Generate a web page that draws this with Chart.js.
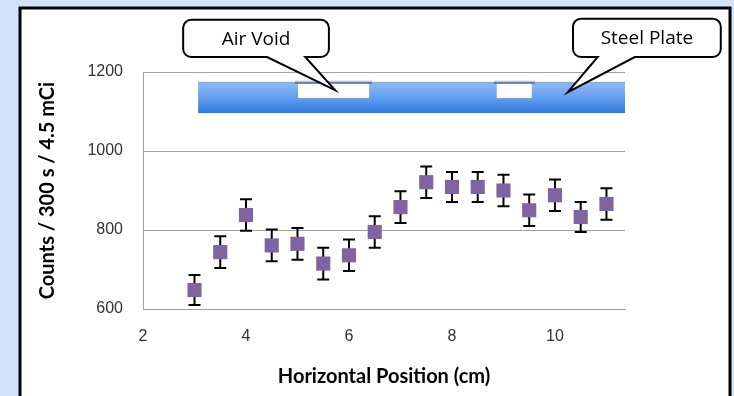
<!DOCTYPE html>
<html>
<head>
<meta charset="utf-8">
<style>
  html, body { margin: 0; padding: 0; background: #cfe4fa; }
  canvas { display: block; }
</style>
<script src="https://cdn.jsdelivr.net/npm/chart.js@4"></script>
</head>
<body>
<canvas id="chart" width="734" height="396"></canvas>
<script>
// measured data, counts per 300 s
const positions = [3, 3.5, 4, 4.5, 5, 5.5, 6, 6.5, 7, 7.5, 8, 8.5, 9, 9.5, 10, 10.5, 11];
const counts = [648, 744, 838, 761, 765, 715, 736, 795, 858, 921, 909, 909, 900, 850, 888, 833, 866];
const errors = [38, 40, 40, 40, 40, 40, 40, 40, 40, 40, 38, 38, 40, 40, 40, 38, 40];

const xTicks = [2, 4, 6, 8, 10];
const yTicks = [600, 800, 1000, 1200];

// schematic of the sample (in axis units)
const plateStart = 3.07;
const plateTop = 1175;
const plateBottom = 1096;
const voids = [[5.01, 6.39], [8.87, 9.55]];
const voidTop = 1170;
const voidBottom = 1134;

const callouts = [
  { text: "Air Void", box: [2.78, 5.61, 1332, 1238], base: [4.41, 5.15], tip: [5.73, 1154] },
  { text: "Steel Plate", box: [10.35, 13.22, 1335, 1238], base: [10.83, 11.55], tip: [10.25, 1149] }
];

const frame = {
  id: "frame",
  beforeDraw(chart) {
    const c = chart.ctx;
    c.save();
    c.fillStyle = "#cfe4fa";
    c.fillRect(0, 0, chart.width, chart.height);
    c.fillStyle = "#ffffff";
    c.fillRect(20, 8, 710, chart.height);
    c.strokeStyle = "#000";
    c.lineWidth = 3;
    c.strokeRect(20, 8, 710, chart.height + 10);
    c.restore();
  }
};

const errorBars = {
  id: "errorBars",
  beforeDatasetsDraw(chart) {
    const c = chart.ctx;
    const xs = chart.scales.x, ys = chart.scales.y;
    c.save();
    c.strokeStyle = "#000";
    c.lineWidth = 2;
    positions.forEach((p, i) => {
      const x = xs.getPixelForValue(p);
      const y1 = ys.getPixelForValue(counts[i] + errors[i]);
      const y2 = ys.getPixelForValue(counts[i] - errors[i]);
      c.beginPath();
      c.moveTo(x, y1); c.lineTo(x, y2);
      c.moveTo(x - 6, y1); c.lineTo(x + 6, y1);
      c.moveTo(x - 6, y2); c.lineTo(x + 6, y2);
      c.stroke();
    });
    c.restore();
  }
};

const schematic = {
  id: "schematic",
  afterDatasetsDraw(chart) {
    const c = chart.ctx;
    const xs = chart.scales.x, ys = chart.scales.y;
    const area = chart.chartArea;
    const px = v => xs.getPixelForValue(v);
    const py = v => ys.getPixelForValue(v);

    // plate
    const l = px(plateStart), r = area.right, t = py(plateTop), b = py(plateBottom);
    const g = c.createLinearGradient(0, t, 0, b);
    g.addColorStop(0, "#92bcf6");
    g.addColorStop(0.45, "#6aa2ee");
    g.addColorStop(1, "#2f7ae0");
    c.save();
    c.fillStyle = g;
    c.fillRect(l, t, r - l, b - t);
    const sh = c.createLinearGradient(0, t, 0, t + 3);
    sh.addColorStop(0, "rgba(120,130,150,0.35)");
    sh.addColorStop(1, "rgba(120,130,150,0)");
    c.fillStyle = sh;
    c.fillRect(l, t, r - l, 3);

    voids.forEach(([a, z]) => {
      const vl = px(a), vr = px(z), vt = py(voidTop), vb = py(voidBottom);
      const s = c.createLinearGradient(0, vt - 4, 0, vt);
      s.addColorStop(0, "rgba(40,50,80,0)");
      s.addColorStop(1, "rgba(40,50,80,0.55)");
      c.fillStyle = s;
      c.fillRect(vl - 3, vt - 4, vr - vl + 6, 4);
      c.fillStyle = "#ffffff";
      c.fillRect(vl, vt, vr - vl, vb - vt);
    });
    c.restore();

    // callouts
    c.save();
    c.lineWidth = 2;
    c.strokeStyle = "#000";
    c.font = "19px 'Open Sans', sans-serif";
    c.textAlign = "center";
    c.textBaseline = "middle";
    callouts.forEach(co => {
      const bl = px(co.box[0]), br = px(co.box[1]), bt = py(co.box[2]), bb = py(co.box[3]);
      const rad = 8;
      const b0 = px(co.base[0]), b1 = px(co.base[1]);
      const tx = px(co.tip[0]), ty = py(co.tip[1]);
      c.beginPath();
      c.moveTo(bl + rad, bt);
      c.lineTo(br - rad, bt);
      c.arcTo(br, bt, br, bt + rad, rad);
      c.lineTo(br, bb - rad);
      c.arcTo(br, bb, br - rad, bb, rad);
      c.lineTo(b1, bb);
      c.lineTo(tx, ty);
      c.lineTo(b0, bb);
      c.lineTo(bl + rad, bb);
      c.arcTo(bl, bb, bl, bb - rad, rad);
      c.lineTo(bl, bt + rad);
      c.arcTo(bl, bt, bl + rad, bt, rad);
      c.closePath();
      c.fillStyle = "#ffffff";
      c.fill();
      c.stroke();
      c.fillStyle = "#000";
      c.fillText(co.text, (bl + br) / 2, (bt + bb) / 2 + 1);
    });
    c.restore();
  }
};

const tickFont = { family: "'Liberation Sans', sans-serif", size: 16 };

new Chart(document.getElementById("chart"), {
  type: "scatter",
  data: {
    datasets: [{
      data: positions.map((p, i) => ({ x: p, y: counts[i] })),
      pointStyle: "rect",
      pointRadius: 10,
      pointHoverRadius: 10,
      backgroundColor: "#8064a2",
      borderColor: "#8064a2",
      borderWidth: 0
    }]
  },
  options: {
    responsive: false,
    animation: false,
    devicePixelRatio: 1,
    layout: { padding: { left: 0, top: 72, right: 109, bottom: 0 } },
    plugins: {
      legend: { display: false },
      tooltip: { enabled: false }
    },
    scales: {
      x: {
        type: "linear",
        min: 2,
        max: 11.36,
        afterBuildTicks: s => { s.ticks = xTicks.map(v => ({ value: v })); },
        afterFit: s => { s.height = 87; },
        grid: { display: false, drawTicks: false },
        border: { color: "#a0a0a0", width: 1 },
        ticks: { padding: 18, color: "#333", font: tickFont, callback: v => String(v) },
        title: {
          display: true,
          text: "Horizontal Position (cm)",
          color: "#000",
          font: { family: "Lato, sans-serif", size: 20, weight: "bold" },
          padding: { top: 0, bottom: 7 }
        }
      },
      y: {
        min: 600,
        max: 1200,
        afterBuildTicks: s => { s.ticks = yTicks.map(v => ({ value: v })); },
        afterFit: s => { s.width = 143; },
        grid: { color: "#a0a0a0", lineWidth: 1, drawTicks: false },
        border: { color: "#a0a0a0", width: 1 },
        ticks: { padding: 20, color: "#333", font: tickFont, callback: v => String(v) },
        title: {
          display: true,
          text: "Counts / 300 s / 4.5 mCi",
          color: "#000",
          font: { family: "Lato, sans-serif", size: 20, weight: "bold" },
          padding: { top: 36, bottom: 0 }
        }
      }
    }
  },
  plugins: [frame, errorBars, schematic]
});
</script>
</body>
</html>
